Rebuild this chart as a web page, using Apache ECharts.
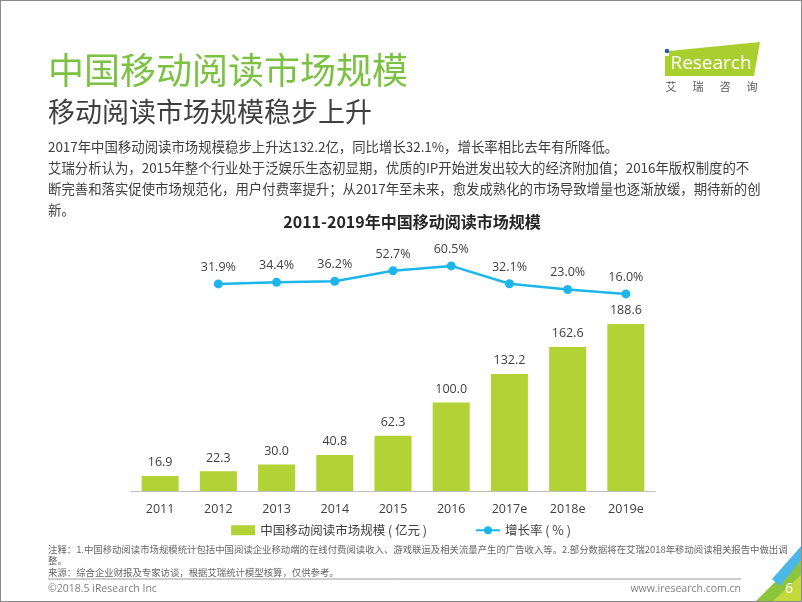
<!DOCTYPE html>
<html><head><meta charset="utf-8">
<script src="https://cdn.jsdelivr.net/npm/echarts@6/dist/echarts.min.js"></script>
<style>
html,body{margin:0;padding:0;background:#fff;}
#c{width:802px;height:602px;box-sizing:border-box;border:1px solid #8a8a8a;}
#chart{width:800px;height:600px;}
</style></head>
<body><div id="c"><div id="chart"></div></div>
<script>
const categories = ['2011','2012','2013','2014','2015','2016','2017e','2018e','2019e'];
const marketSize = [16.9, 22.3, 30.0, 40.8, 62.3, 100.0, 132.2, 162.6, 188.6];
const growthRate = [null, 31.9, 34.4, 36.2, 52.7, 60.5, 32.1, 23.0, 16.0];
const seriesNames = ['中国移动阅读市场规模 ( 亿元 )', '增长率 ( % )'];
const bodyLines = [
  '2017年中国移动阅读市场规模稳步上升达132.2亿，同比增长32.1%，增长率相比去年有所降低。',
  '艾瑞分析认为，2015年整个行业处于泛娱乐生态初显期，优质的IP开始迸发出较大的经济附加值；2016年版权制度的不',
  '断完善和落实促使市场规范化，用户付费率提升；从2017年至未来，愈发成熟化的市场导致增量也逐渐放缓，期待新的创',
  '新。'
];
const noteLines = [
  '注释：1.中国移动阅读市场规模统计包括中国阅读企业移动端的在线付费阅读收入、游戏联运及相关流量产生的广告收入等。2.部分数据将在艾瑞2018年移动阅读相关报告中做出调',
  '整。',
  '来源：综合企业财报及专家访谈，根据艾瑞统计模型核算，仅供参考。'
];

const CJK = '"Noto Sans CJK SC","Open Sans",sans-serif';
const NUM = '"Open Sans","Noto Sans CJK SC",sans-serif';
const GREEN = '#b2d235';
const BLUE = '#1db6ea';
const TXT = '#404040';

const chart = echarts.init(document.getElementById('chart'), null, {renderer:'canvas'});

const O = 1;
const g = [];
function txt(x, y, s, size, color, opts) {
  opts = opts || {};
  g.push({type:'text', silent:true, z:10, style:Object.assign({
    text:s, x:x-O, y:y-O, fill:color, fontSize:size, fontFamily:opts.family||CJK,
    fontWeight:opts.weight||'normal', align:opts.align||'left', verticalAlign:'middle'
  }, opts.extra||{})});
}
function poly(pts, fill) {
  g.push({type:'polygon', silent:true, z:5, shape:{points:pts.map(p=>[p[0]-O,p[1]-O])}, style:{fill:fill}});
}
txt(48, 70, '中国移动阅读市场规模', 36, '#7cc242');
txt(48, 112, '移动阅读市场规模稳步上升', 27, '#404040');
bodyLines.forEach((l,i)=>txt(48, 147+i*21, l, 13.4, TXT));
txt(412, 222, '2011-2019年中国移动阅读市场规模', 16, '#262626', {align:'center', weight:'bold'});
noteLines.forEach((l,i)=>txt(48, 549+i*11.5, l, 9.4, '#666'));
txt(48, 589, '©2018.5 iResearch Inc', 10.5, '#7f7f7f', {family:NUM});
txt(741, 589, 'www.iresearch.com.cn', 10.5, '#7f7f7f', {family:NUM, align:'right'});
g.push({type:'line', silent:true, shape:{x1:48-O,y1:579-O,x2:741-O,y2:579-O}, style:{stroke:'#9a9a9a', lineWidth:1}});
// corner decoration
poly([[755,602],[802,555],[802,602]], '#8cc43c');
poly([[772,602],[802,574],[802,602]], '#c4da3c');
poly([[772,579],[802,545],[802,559],[780,586]], '#4bb8e8');
txt(789, 589, '6', 14, '#ffffff', {family:NUM, align:'center'});
// logo
poly([[669,51],[760,42],[754,76],[669,76]], '#a9cf2f');
g.push({type:'rect', silent:true, z:6, shape:{x:665-O,y:56-O,width:4,height:20}, style:{fill:'#a9cf2f'}});
g.push({type:'circle', silent:true, z:6, shape:{cx:667-O,cy:51-O,r:2.3}, style:{fill:'#2a5caa'}});
txt(711, 64, 'Research', 19, '#ffffff', {family:'"Open Sans",sans-serif', align:'center'});
['艾','瑞','咨','询'].forEach((c,i)=>txt(671+i*27, 87, c, 11, '#595959', {align:'center'}));

const option = {
  backgroundColor:'#fff',
  animation:false,
  textStyle:{fontFamily:NUM},
  legend:{
    top:519-O, left:'center',
    itemGap:48, itemWidth:24, itemHeight:10,
    textStyle:{fontSize:12.5, color:TXT, fontFamily:CJK},
    data:[{name:seriesNames[0], icon:'rect'}, {name:seriesNames[1]}]
  },
  grid:[
    {left:131-O, right:802-656, top:241-O, height:63, containLabel:false},
    {left:131-O, right:802-656, top:314-O, height:177, containLabel:false}
  ],
  xAxis:[
    {type:'category', gridIndex:0, data:categories, show:false},
    {type:'category', gridIndex:1, data:categories,
     axisLine:{lineStyle:{color:'#bfbfbf', width:1}}, axisTick:{show:false},
     axisLabel:{color:TXT, fontSize:12.5, margin:12, fontFamily:NUM}}
  ],
  yAxis:[
    {type:'value', gridIndex:0, min:0, max:100, show:false},
    {type:'value', gridIndex:1, min:0, max:200, show:false}
  ],
  graphic:g,
  series:[
    {name:seriesNames[0], type:'bar', xAxisIndex:1, yAxisIndex:1, data:marketSize,
     barWidth:37, itemStyle:{color:GREEN},
     label:{show:true, position:'top', distance:7, color:TXT, fontSize:12.5, fontFamily:NUM,
       formatter:p=>p.value.toFixed(1)}},
    {name:seriesNames[1], type:'line', xAxisIndex:0, yAxisIndex:0, data:growthRate,
     symbol:'circle', symbolSize:9, showAllSymbol:true,
     lineStyle:{color:BLUE, width:2.5}, itemStyle:{color:BLUE},
     label:{show:true, position:'top', distance:6, color:TXT, fontSize:12.5, fontFamily:NUM,
       formatter:p=>p.value==null?'':p.value.toFixed(1)+'%'}}
  ]
};
chart.setOption(option);
</script></body></html>
